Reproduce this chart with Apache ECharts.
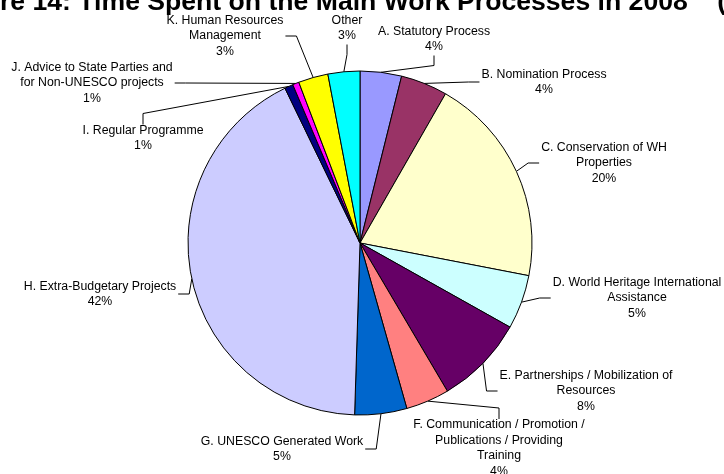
<!DOCTYPE html>
<html>
<head>
<meta charset="utf-8">
<script src="https://cdn.jsdelivr.net/npm/echarts@6/dist/echarts.min.js"></script>
<style>html,body{margin:0;padding:0;background:#fff}#c{width:724px;height:474px}</style>
</head>
<body>
<div id="c"></div>
<script>
const categories = [
  'A. Statutory Process',
  'B. Nomination Process',
  'C. Conservation of WH\nProperties',
  'D. World Heritage International\nAssistance',
  'E. Partnerships / Mobilization of\nResources',
  'F. Communication / Promotion /\nPublications / Providing\nTraining',
  'G. UNESCO Generated Work',
  'H. Extra-Budgetary Projects',
  'I. Regular Programme',
  'J. Advice to State Parties and\nfor Non-UNESCO projects',
  'K. Human Resources\nManagement',
  'Other'
];
const values = [3.9, 4.4, 19.8, 5.1, 8.4, 4.1, 4.9, 42.4, 0.8, 0.6, 2.8, 3.0];
const colors = ['#9999FF','#993366','#FFFFCC','#CCFFFF','#660066','#FF8080','#0066CC','#CCCCFF','#000080','#FF00FF','#FFFF00','#00FFFF'];
const titleText = 'Figure 14: Time Spent on the Main Work Processes in 2008    (%)';

// label placement (layout only): centre of label block and side where leader line attaches
const labelPos = [
  [434, 39], [544, 82], [604, 163], [637, 298], [586, 391], [499, 448],
  [282, 449], [100, 294], [143, 138], [92, 83], [225, 36], [347, 28]
];
const labelSide = ['B', 'L', 'L', 'L', 'L', 'T', 'R', 'R', 'T', 'R', 'R', 'B'];

const chart = echarts.init(document.getElementById('c'));
const titleFont = 'bold 26.6px "Liberation Sans", Arial, sans-serif';
const cv = document.createElement('canvas').getContext('2d');
cv.font = titleFont;
const off = cv.measureText('Figu').width;

chart.setOption({
  animation: false,
  backgroundColor: '#fff',
  graphic: [{
    type: 'text', x: -off, y: 2.5,
    style: { text: titleText, font: titleFont, fill: '#000', verticalAlign: 'middle', align: 'left' }
  }],
  series: [{
    type: 'pie',
    center: [360, 243],
    radius: 172,
    startAngle: 90,
    clockwise: true,
    avoidLabelOverlap: false,
    data: categories.map((c, i) => ({ name: c, value: values[i], itemStyle: { color: colors[i] } })),
    itemStyle: { borderColor: '#000', borderWidth: 1 },
    emphasis: { disabled: true },
    label: {
      show: true,
      position: 'outside',
      formatter: p => p.name + '\n' + Math.round(p.percent) + '%',
      fontFamily: '"Liberation Sans", Arial, sans-serif',
      fontSize: 12.3,
      lineHeight: 15.5,
      color: '#000',
      align: 'center'
    },
    labelLine: { show: true, length: 10, length2: 10, lineStyle: { color: '#000', width: 1 } },
    labelLayout: function (params) {
      const i = params.dataIndex;
      const p = labelPos[i];
      const w = params.labelRect.width, h = params.labelRect.height;
      const start = params.labelLinePoints ? params.labelLinePoints[0] : null;
      const out = { x: p[0], y: p[1], align: 'center', verticalAlign: 'middle' };
      if (start) {
        let end, elbow;
        const s = labelSide[i];
        if (s === 'L') { end = [p[0] - w / 2 - 2, p[1]]; elbow = [end[0] - 11, p[1]]; }
        else if (s === 'R') { end = [p[0] + w / 2 + 2, p[1]]; elbow = [end[0] + 11, p[1]]; }
        else if (s === 'T') { end = [p[0], p[1] - h / 2 + 2]; elbow = [p[0], end[1] - 11]; }
        else { end = [p[0], p[1] + h / 2 + 1]; elbow = [p[0], end[1] + 10]; }
        out.labelLinePoints = [[start[0], start[1]], elbow, end];
      }
      return out;
    }
  }]
});
</script>
</body>
</html>
